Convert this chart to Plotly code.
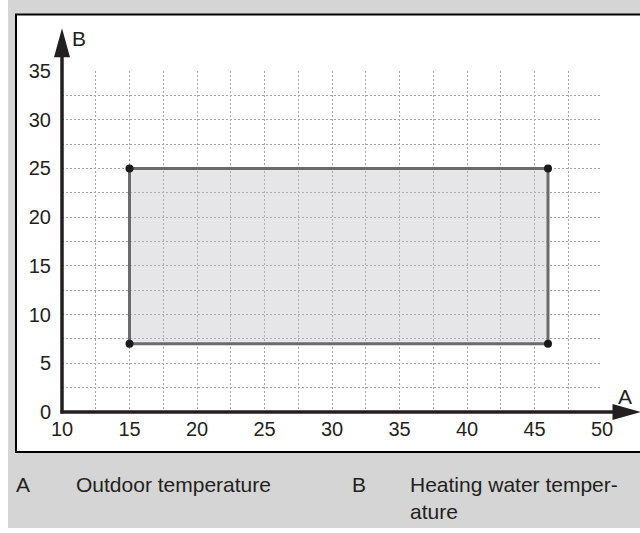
import plotly.graph_objects as go

# Operating range: outdoor temperature (A) against heating water temperature (B)
range_a = [15, 46]          # outdoor temperature limits
range_b = [7, 25]           # heating water temperature limits
x_ticks = [10, 15, 20, 25, 30, 35, 40, 45, 50]
y_ticks = [0, 5, 10, 15, 20, 25, 30, 35]
x_limits = [10, 50]
y_limits = [0, 35]
x_arrow_end = 52.85         # axis arrows run past the last tick
y_arrow_end = 39.4

legend_keys = ["A", "B"]
legend_texts = ["Outdoor temperature", "Heating water temper-<br>ature"]

W, H = 640, 533
M = dict(l=62, r=38, t=71, b=121)
PW = W - M["l"] - M["r"]
PH = H - M["t"] - M["b"]

INK = "#231f20"
FONT = "Liberation Sans, Arial, Helvetica, sans-serif"


def paper_x(px):
    return (px - M["l"]) / PW


def paper_y(py):
    return (H - M["b"] - py) / PH


def data_x(v):
    return (v - x_limits[0]) / (x_limits[1] - x_limits[0])


def data_y(v):
    return (v - y_limits[0]) / (y_limits[1] - y_limits[0])


xs = [range_a[0], range_a[0], range_a[1], range_a[1], range_a[0]]
ys = [range_b[0], range_b[1], range_b[1], range_b[0], range_b[0]]

fig = go.Figure()
fig.add_trace(go.Scatter(
    x=xs, y=ys, mode="lines", fill="toself",
    fillcolor="rgba(192,192,198,0.4)",
    line=dict(color="#6b6b6b", width=3),
    hoverinfo="skip", showlegend=False,
))
fig.add_trace(go.Scatter(
    x=xs[:4], y=ys[:4], mode="markers",
    marker=dict(color="#1a1a1a", size=8),
    showlegend=False,
))

grid = dict(showgrid=True, gridcolor="#a4a4a4", gridwidth=1, griddash="2px,2px")

fig.update_xaxes(
    range=x_limits, tickvals=x_ticks, ticks="", showline=False, zeroline=False,
    tickfont=dict(size=20, color=INK, family=FONT), ticklabelstandoff=3,
    minor=dict(dtick=2.5, tick0=10, **grid), **grid,
)
fig.update_yaxes(
    range=y_limits, tickvals=y_ticks, ticks="", showline=False, zeroline=False,
    tickfont=dict(size=20, color=INK, family=FONT), ticklabelstandoff=10,
    minor=dict(dtick=2.5, tick0=0, **grid), **grid,
)

ax0x, ax0y = data_x(x_limits[0]), data_y(y_limits[0])
xa_tip, ya_tip = data_x(x_arrow_end), data_y(y_arrow_end)
head_len_x = 28 / PW
head_half_x = 8 / PH
head_len_y = 29 / PH
head_half_y = 8 / PW

shapes = [
    # grey page panel
    dict(type="rect", xref="paper", yref="paper",
         x0=paper_x(8), x1=paper_x(641), y0=paper_y(528), y1=paper_y(-2),
         fillcolor="#d5d5d5", line=dict(width=0), layer="below"),
    # white framed diagram area
    dict(type="rect", xref="paper", yref="paper",
         x0=paper_x(16), x1=paper_x(650), y0=paper_y(452), y1=paper_y(14.5),
         fillcolor="white", line=dict(color="black", width=2), layer="below"),
    # y axis with arrow
    dict(type="line", xref="paper", yref="paper",
         x0=ax0x, x1=ax0x, y0=ax0y - 1.5 / PH, y1=ya_tip - head_len_y + 0.01,
         line=dict(color=INK, width=3.5)),
    dict(type="path", xref="paper", yref="paper",
         path=f"M {ax0x - head_half_y},{ya_tip - head_len_y} L {ax0x},{ya_tip} "
              f"L {ax0x + head_half_y},{ya_tip - head_len_y} Z",
         fillcolor=INK, line=dict(width=0)),
    # x axis with arrow
    dict(type="line", xref="paper", yref="paper",
         x0=ax0x - 1.5 / PW, x1=xa_tip - head_len_x + 0.01, y0=ax0y, y1=ax0y,
         line=dict(color=INK, width=3.5)),
    dict(type="path", xref="paper", yref="paper",
         path=f"M {xa_tip - head_len_x},{ax0y - head_half_x} L {xa_tip},{ax0y} "
              f"L {xa_tip - head_len_x},{ax0y + head_half_x} Z",
         fillcolor=INK, line=dict(width=0)),
]

annotations = [
    dict(text="B", x=paper_x(78.5), y=paper_y(38), xref="paper", yref="paper",
         xanchor="center", yanchor="middle",
         showarrow=False, font=dict(size=21, color=INK, family=FONT)),
    dict(text="A", x=paper_x(625), y=paper_y(396), xref="paper", yref="paper",
         xanchor="center", yanchor="middle",
         showarrow=False, font=dict(size=21, color=INK, family=FONT)),
]
key_x = [paper_x(14), paper_x(350)]
text_x = [paper_x(74), paper_x(408)]
for key, txt, kx, tx in zip(legend_keys, legend_texts, key_x, text_x):
    annotations.append(dict(text=key, x=kx, y=paper_y(471), xref="paper", yref="paper",
                            xanchor="left", yanchor="top", showarrow=False, align="left",
                            font=dict(size=21, color=INK, family=FONT)))
    annotations.append(dict(text=txt, x=tx, y=paper_y(471), xref="paper", yref="paper",
                            xanchor="left", yanchor="top", showarrow=False, align="left",
                            font=dict(size=21, color=INK, family=FONT)))

fig.update_layout(
    width=W, height=H, margin=M,
    paper_bgcolor="white", plot_bgcolor="rgba(0,0,0,0)",
    shapes=shapes, annotations=annotations,
    font=dict(family=FONT, color=INK),
)

fig.write_html("out.html")
